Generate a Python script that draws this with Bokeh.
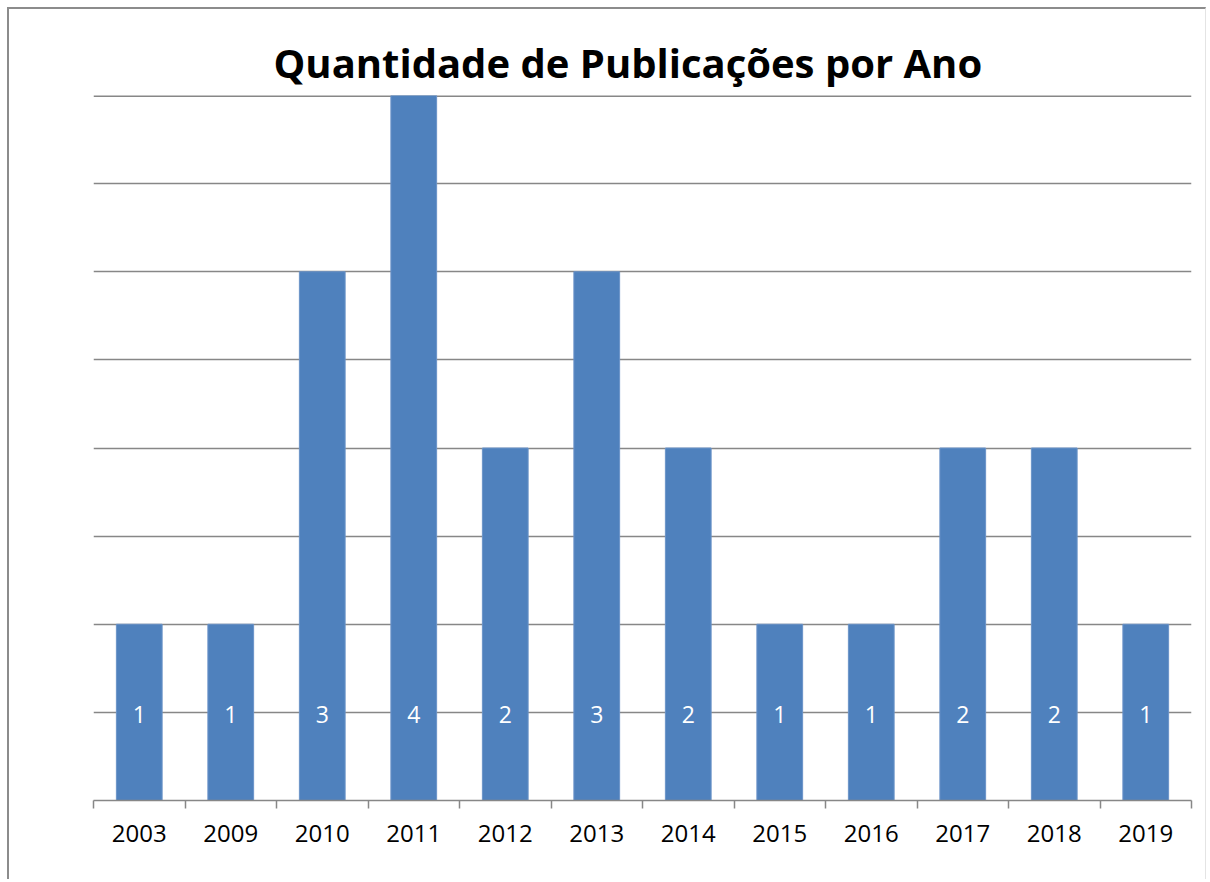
import numpy as np
from bokeh.plotting import figure
from bokeh.models import FixedTicker, ColumnDataSource, Range1d, Span
from bokeh.embed import file_html
from bokeh.resources import INLINE
from bokeh.core.properties import value

years = ["2003", "2009", "2010", "2011", "2012", "2013", "2014", "2015", "2016", "2017", "2018", "2019"]
counts = [1, 1, 3, 4, 2, 3, 2, 1, 1, 2, 2, 1]
grid_ticks = [0.5, 1.0, 1.5, 2.0, 2.5, 3.0, 3.5, 4.0]
title_text = "Quantidade de Publicações por Ano"

n = len(years)
xs = [i + 0.5 for i in range(n)]
label_y = [0.5] * n

src = ColumnDataSource(dict(x=xs, top=counts, ly=label_y, label=[str(c) for c in counts], year=years))

GRAY = "#878787"
FONT = "Open Sans"

p = figure(width=1199, height=872,
           x_range=Range1d(0, n), y_range=Range1d(0, grid_ticks[-1]),
           output_backend="svg", toolbar_location=None,
           min_border_left=84, min_border_right=17, min_border_top=86, min_border_bottom=81,
           outline_line_color=None,
           styles={"margin-left": "7px", "margin-top": "7px",
                   "border-left": "2px solid #8c8c8c", "border-top": "2px solid #8c8c8c",
                   "border-right": "1px solid #e4e4e4"})

p.title.text = title_text
p.title.text_font = FONT
p.title.text_font_size = "40px"
p.title.text_font_style = "bold"
p.title.text_color = "black"
p.title.align = "left"
p.title.offset = 180
p.title.standoff = 12

p.ygrid.ticker = FixedTicker(ticks=grid_ticks)
p.ygrid.grid_line_color = GRAY
p.ygrid.grid_line_width = 1.5
# the grid skips the range end, so draw the top grid line explicitly
p.add_layout(Span(location=grid_ticks[-1], dimension="width", line_color=GRAY, line_width=3, level="underlay"))

p.vbar(x="x", top="top", width=0.5, source=src, fill_color="#4F81BD", line_color="#6a93c8", line_width=1)
p.text(x="x", y="ly", text="label", source=src, text_color="white", text_font=value(FONT),
       text_font_size="23px", text_align="center", text_baseline="middle", y_offset=2)

xa = p.xaxis[0]
xa.ticker = FixedTicker(ticks=xs, minor_ticks=list(range(n + 1)))
xa.major_label_overrides = {x: y for x, y in zip(xs, years)}
xa.major_tick_line_color = None
xa.major_tick_out = 0
xa.major_tick_in = 0
xa.minor_tick_line_color = GRAY
xa.minor_tick_line_width = 1.5
xa.minor_tick_out = 8
xa.minor_tick_in = 0
xa.axis_line_color = GRAY
xa.axis_line_width = 1.5
xa.major_label_text_font = FONT
xa.major_label_text_font_size = "24px"
xa.major_label_text_color = "black"
xa.major_label_standoff = 16

p.yaxis.visible = False
p.xgrid.visible = False

open("out.html", "w").write(file_html(p, INLINE))
